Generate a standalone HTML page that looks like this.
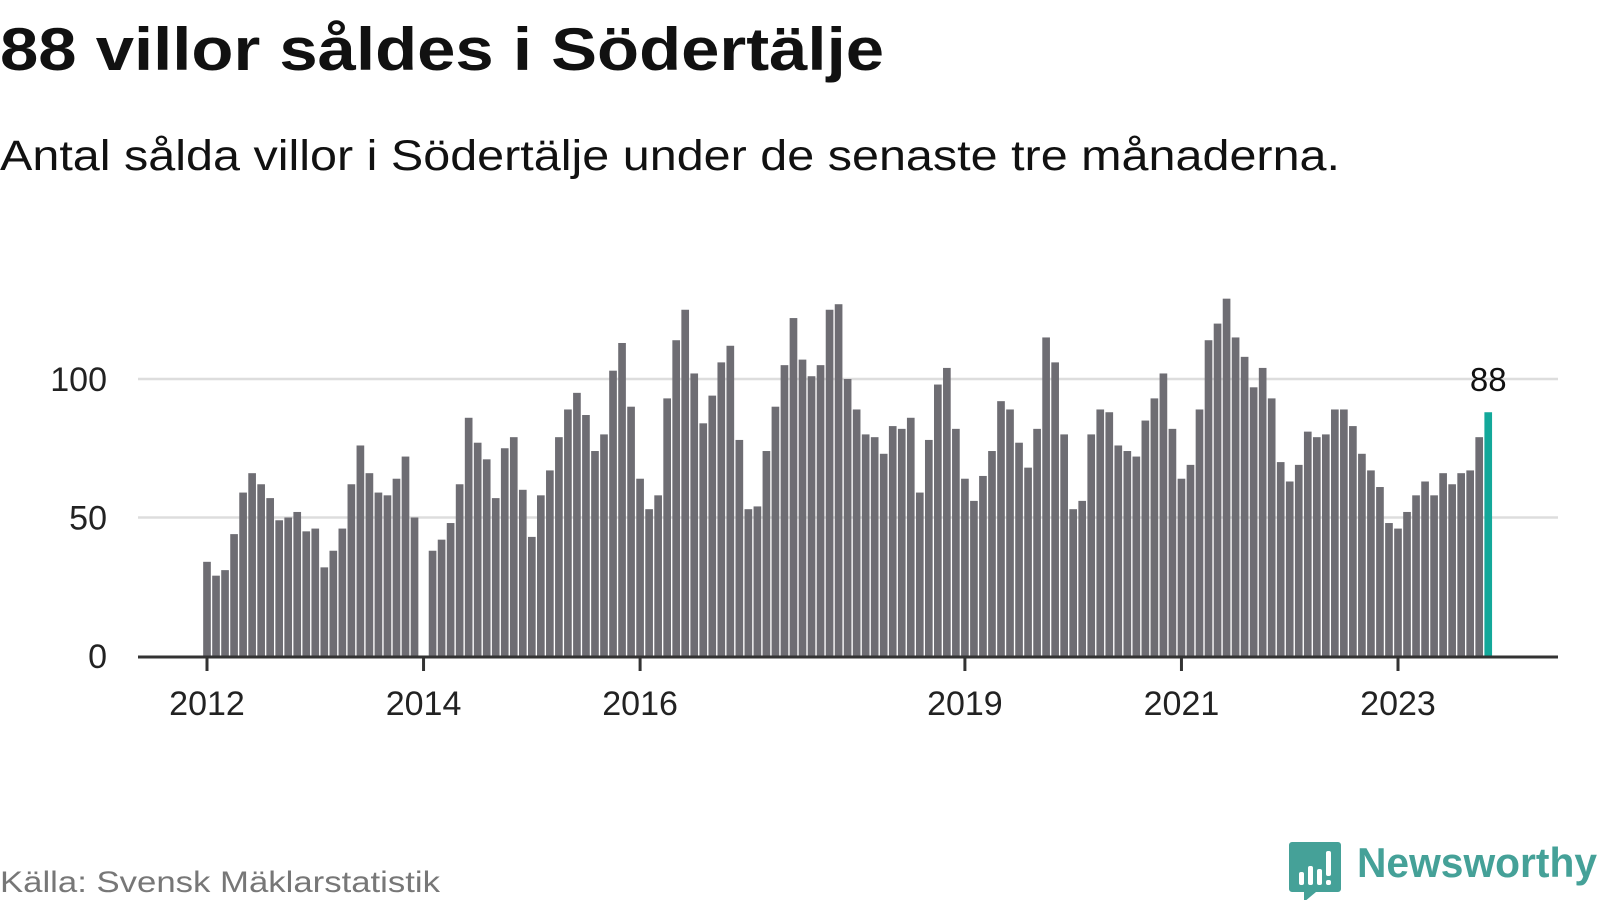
<!DOCTYPE html>
<html><head><meta charset="utf-8"><style>
html,body{margin:0;padding:0;background:#fff;width:1600px;height:900px;overflow:hidden;font-family:"Liberation Sans",sans-serif;}
</style></head><body>
<svg width="1600" height="900" viewBox="0 0 1600 900" xmlns="http://www.w3.org/2000/svg">
<text x="0" y="70" font-size="60" font-weight="bold" fill="#111" textLength="884" lengthAdjust="spacingAndGlyphs">88 villor såldes i Södertälje</text>
<text x="0" y="170" font-size="43" fill="#111" textLength="1340" lengthAdjust="spacingAndGlyphs">Antal sålda villor i Södertälje under de senaste tre månaderna.</text>
<g id="grid"></g>
<g id="bars"></g>
<g id="axes"></g>
<text x="0" y="892" font-size="30" fill="#777" textLength="440" lengthAdjust="spacingAndGlyphs">Källa: Svensk Mäklarstatistik</text>
<g>
<path d="M1292 842 h46 a3 3 0 0 1 3 3 v44 a3 3 0 0 1 -3 3 h-22 l-12 10 v-10 h-12 a3 3 0 0 1 -3 -3 v-44 a3 3 0 0 1 3 -3z" fill="#45a198"/>
<rect x="1299" y="872" width="5" height="13" rx="2" fill="#fff"/>
<rect x="1308" y="866" width="5" height="19" rx="2" fill="#fff"/>
<rect x="1317" y="869" width="5" height="16" rx="2" fill="#fff"/>
<rect x="1326" y="851" width="5" height="25" rx="2" fill="#fff"/>
<rect x="1326" y="880" width="5" height="5" rx="2" fill="#fff"/>
<text x="1357" y="877" font-size="42" font-weight="bold" fill="#45a198" textLength="240" lengthAdjust="spacingAndGlyphs">Newsworthy</text>
</g>
</svg>
<script>
const years=[2012,2013,2014,2015,2016,2017,2018,2019,2020,2021,2022,2023];
const values=[
34,29,31,44,59,66,62,57,49,50,52,45,
46,32,38,46,62,76,66,59,58,64,72,50,
0,38,42,48,62,86,77,71,57,75,79,60,
43,58,67,79,89,95,87,74,80,103,113,90,
64,53,58,93,114,125,102,84,94,106,112,78,
53,54,74,90,105,122,107,101,105,125,127,100,
89,80,79,73,83,82,86,59,78,98,104,82,
64,56,65,74,92,89,77,68,82,115,106,80,
53,56,80,89,88,76,74,72,85,93,102,82,
64,69,89,114,120,129,115,108,97,104,93,70,
63,69,81,79,80,89,89,83,73,67,61,48,
46,52,58,63,58,66,62,66,67,79,88];
const tickYears=[2012,2014,2016,2019,2021,2023];
const yTicks=[0,50,100];
const NS="http://www.w3.org/2000/svg";
const x0=207, step=(1398-207)/132, y0=656, pxPerUnit=(656-379)/100;
function xS(i){return x0+i*step;}
function yS(v){return y0-v*pxPerUnit;}
function mk(tag,attrs,parent){const e=document.createElementNS(NS,tag);for(const k in attrs)e.setAttribute(k,attrs[k]);parent.appendChild(e);return e;}
const grid=document.getElementById('grid'),bars=document.getElementById('bars'),axes=document.getElementById('axes');
yTicks.forEach(t=>{
  if(t>0){const l=mk('line',{x1:138,x2:1558,y1:yS(t),y2:yS(t),stroke:'#dddddd','stroke-width':2.5},grid);
  
  }
  const tx=mk('text',{x:107,y:yS(t)+12,'font-size':34,'text-anchor':'end',fill:'#222'},grid);
  tx.textContent=t;
  
  
});
const bw=step*0.85;
values.forEach((v,i)=>{
  if(!v)return;
  const last=i===values.length-1;
  const r=mk('rect',{x:xS(i)-bw/2,y:yS(v),width:bw,height:y0-yS(v),fill:last?'#13a89a':'#6e6d73'},bars);
  
  
  if(last){const t=mk('text',{x:xS(i),y:yS(100)+12,'font-size':33,'text-anchor':'middle',fill:'#111'},bars);
    t.textContent=v;
    
    }
});
const ax=mk('line',{x1:138,x2:1558,y1:y0+1,y2:y0+1,stroke:'#333','stroke-width':3},axes);


tickYears.forEach(y=>{
  const i=(y-2012)*12;
  const tk=mk('line',{x1:xS(i),x2:xS(i),y1:y0,y2:y0+15,stroke:'#333','stroke-width':3},axes);
  
  
  const t=mk('text',{x:xS(i),y:715,'font-size':34,'text-anchor':'middle',fill:'#222'},axes);
  t.textContent=y;
  
  
});
</script>
</body></html>
